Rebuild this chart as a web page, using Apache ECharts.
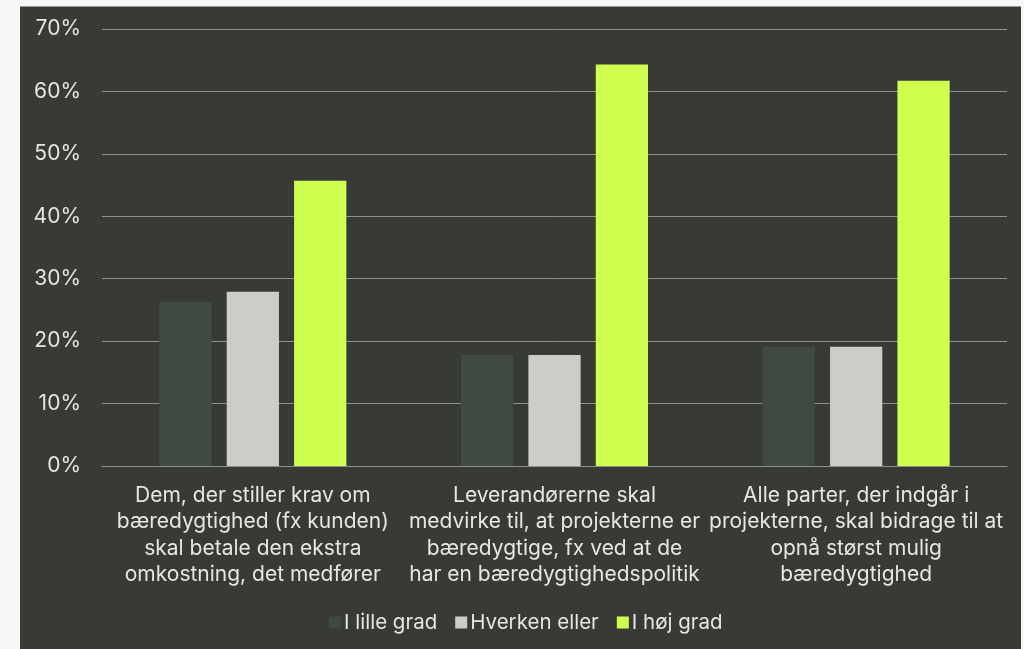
<!DOCTYPE html>
<html>
<head>
<meta charset="utf-8">
<script src="https://cdn.jsdelivr.net/npm/echarts@6/dist/echarts.min.js"></script>
<style>
  html, body { margin: 0; padding: 0; background: #f7f7f7; }
  #panel { position: absolute; left: 20px; top: 6px; width: 1001px; height: 643px; background: #373a35; border-top: 1px solid #9a9a9a; }
  #main { position: absolute; left: 0; top: 0; width: 1024px; height: 649px; }
</style>
</head>
<body>
<div id="panel"></div>
<div id="main"></div>
<script>
// kategorier (linjeskift som i originalen)
const categories = [
  "Dem, der stiller krav om\nbæredygtighed (fx kunden)\nskal betale den ekstra\nomkostning, det medfører",
  "Leverandørerne skal\nmedvirke til, at projekterne er\nbæredygtige, fx ved at de\nhar en bæredygtighedspolitik",
  "Alle parter, der indgår i\nprojekterne, skal bidrage til at\nopnå størst mulig\nbæredygtighed"
]
const seriesNames = ["I lille grad", "Hverken eller", "I høj grad"]
const lilleGrad = [26.3, 17.8, 19.1]
const hverkenEller = [27.9, 17.8, 19.1]
const hoejGrad = [45.7, 64.3, 61.7]
const colors = ["#414a40", "#cdcdc8", "#cfff4f"]

const textColor = "#e6e6e4"
const font = "Inter"

var chart = echarts.init(document.getElementById("main"))
chart.setOption({
  backgroundColor: "transparent",
  animation: false,
  color: colors,
  textStyle: { fontFamily: font },
  grid: { left: 102, right: 17, top: 29, bottom: 183 },
  legend: {
    bottom: 11,
    left: 324,
    itemWidth: 12,
    itemHeight: 12,
    itemGap: 18,
    icon: "rect",
    textStyle: { color: textColor, fontSize: 20.5, fontFamily: font, padding: [0, 0, 0, -2] },
    data: seriesNames
  },
  xAxis: {
    type: "category",
    data: categories,
    axisLine: { lineStyle: { color: "#8f918d", width: 1 } },
    axisTick: { show: false },
    axisLabel: {
      interval: 0,
      color: textColor,
      fontSize: 21,
      lineHeight: 26.5,
      margin: 16,
      align: "center"
    }
  },
  yAxis: {
    type: "value",
    min: 0,
    max: 70,
    interval: 10,
    axisLine: { show: false },
    axisTick: { show: false },
    splitLine: { lineStyle: { color: "#8f918d", width: 1 } },
    axisLabel: { color: textColor, fontSize: 21, margin: 21, formatter: "{value}%" }
  },
  series: [
    { name: seriesNames[0], type: "bar", data: lilleGrad, barGap: "29%", barCategoryGap: "38%" },
    { name: seriesNames[1], type: "bar", data: hverkenEller },
    { name: seriesNames[2], type: "bar", data: hoejGrad }
  ]
})
window.addEventListener("resize", () => {
  chart.resize()
})
</script>
</body>
</html>
